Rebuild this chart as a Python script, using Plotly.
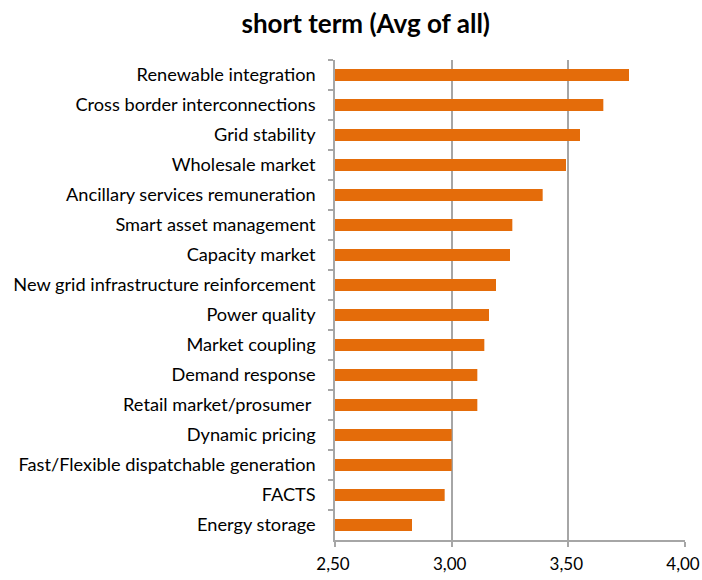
import plotly.graph_objects as go

categories = [
    "Renewable integration",
    "Cross border interconnections",
    "Grid stability",
    "Wholesale market",
    "Ancillary services remuneration",
    "Smart asset management",
    "Capacity market",
    "New grid infrastructure reinforcement",
    "Power quality",
    "Market coupling",
    "Demand response",
    "Retail market/prosumer ",
    "Dynamic pricing",
    "Fast/Flexible dispatchable generation",
    "FACTS",
    "Energy storage",
]
values = [3.76, 3.65, 3.55, 3.49, 3.39, 3.26, 3.25, 3.19,
          3.16, 3.14, 3.11, 3.11, 3.00, 3.00, 2.97, 2.83]
axis_min = 2.5
axis_max = 4.0
x_tickvals = [2.5, 3.0, 3.5, 4.0]
x_ticktext = ["2,50", "3,00", "3,50", "4,00"]

FONT = "Lato"
GRID = "#A6A6A6"

fig = go.Figure(go.Bar(
    x=[v - axis_min for v in values],
    y=categories,
    base=axis_min,
    orientation="h",
    marker=dict(color="#E46C0A", line=dict(width=0)),
))

fig.update_layout(
    width=702, height=580,
    margin=dict(l=335, r=17, t=60, b=40),
    paper_bgcolor="white", plot_bgcolor="white",
    title=dict(text="<b>short term (Avg of all)</b>", x=0.521, xanchor="center",
               y=0.9586, yanchor="middle",
               font=dict(family=FONT, size=26, color="#000000")),
    bargap=0.6,
    showlegend=False,
    font=dict(family=FONT, color="#000000"),
    separators=",.",
)
fig.update_xaxes(
    range=[axis_min, axis_max],
    tickvals=x_tickvals, ticktext=x_ticktext,
    showgrid=True, gridcolor=GRID, gridwidth=1.5,
    showline=True, linecolor=GRID, linewidth=1.5,
    ticks="outside", ticklen=5, tickcolor=GRID, tickwidth=1.5,
    zeroline=False, automargin=False,
    ticklabelstandoff=3,
    ticklabelshift=-2,
    ticklabeloverflow="allow",
    tickfont=dict(family=FONT, size=17, color="#000000"),
)
fig.update_yaxes(
    categoryorder="array", categoryarray=categories,
    autorange="reversed",
    showline=True, linecolor=GRID, linewidth=1.5,
    ticks="outside", ticklen=5, tickcolor=GRID, tickwidth=1.5,
    tickson="boundaries",
    showgrid=False, automargin=False,
    ticklabelstandoff=14,
    tickfont=dict(family=FONT, size=18.2, color="#000000"),
)
fig.write_html(
    "out.html",
    config={"displayModeBar": False},
    post_script="document.body.style.margin='0';document.body.style.overflow='hidden';",
)
